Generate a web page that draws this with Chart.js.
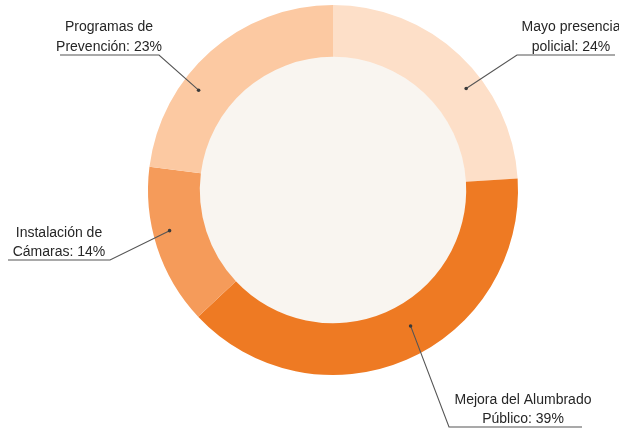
<!DOCTYPE html>
<html>
<head>
<meta charset="utf-8">
<script src="https://cdn.jsdelivr.net/npm/chart.js@4"></script>
<style>
    html, body { margin: 0; padding: 0; background: #ffffff; }
    #wrap { width: 619px; height: 430px; }
</style>
</head>
<body>
<div id="wrap"><canvas id="myChart" width="619" height="430"></canvas></div>
<script>
const categories = ["Mayo presencia policial", "Mejora del Alumbrado Público", "Instalación de Cámaras", "Programas de Prevención"];
const values = [24, 39, 14, 23];
const labelLines = [
    ["Mayo presencia", "policial: 24%"],
    ["Mejora del Alumbrado", "Público: 39%"],
    ["Instalación de", "Cámaras: 14%"],
    ["Programas de", "Prevención: 23%"]
];
const colors = ["#fddfc8", "#ee7a23", "#f59b5a", "#fcc9a2"];

// where each callout sits: dot fraction along slice / across ring, elbow point, underline end, text centre
const callouts = [
    { frac: 0.61, rad: 0.66, elbow: [517, 55], lineEnd: 615, textX: 571, textY: [27, 47] },
    { frac: 0.455, rad: 0.45, elbow: [449, 427], lineEnd: 582, textX: 523, textY: [400, 419] },
    { frac: 0.58, rad: 0.68, elbow: [110, 260], lineEnd: 8, textX: 59, textY: [233, 252] },
    { frac: 0.355, rad: 0.66, elbow: [159, 55], lineEnd: 60, textX: 109, textY: [27, 47] }
];

const calloutPlugin = {
    id: 'callouts',
    beforeDatasetsDraw(chart) {
        const arc = chart.getDatasetMeta(0).data[0];
        const ctx = chart.ctx;
        ctx.save();
        ctx.fillStyle = "#f9f5f0";
        ctx.beginPath();
        ctx.arc(arc.x, arc.y, arc.innerRadius + 0.5, 0, Math.PI * 2);
        ctx.fill();
        ctx.restore();
    },
    afterDatasetsDraw(chart) {
        const ctx = chart.ctx;
        const meta = chart.getDatasetMeta(0);
        ctx.save();
        meta.data.forEach((arc, i) => {
            const c = callouts[i];
            const a = arc.startAngle + (arc.endAngle - arc.startAngle) * c.frac;
            const r = arc.innerRadius + (arc.outerRadius - arc.innerRadius) * c.rad;
            const px = arc.x + Math.cos(a) * r;
            const py = arc.y + Math.sin(a) * r;

            ctx.strokeStyle = "#555555";
            ctx.lineWidth = 1.1;
            ctx.beginPath();
            ctx.moveTo(px, py);
            ctx.lineTo(c.elbow[0], c.elbow[1]);
            ctx.lineTo(c.lineEnd, c.elbow[1]);
            ctx.stroke();

            ctx.fillStyle = "#3a3a3a";
            ctx.beginPath();
            ctx.arc(px, py, 1.8, 0, Math.PI * 2);
            ctx.fill();

            ctx.fillStyle = "#262626";
            ctx.font = "14px 'Liberation Sans', Arial, sans-serif";
            ctx.textAlign = "center";
            ctx.textBaseline = "middle";
            labelLines[i].forEach((t, j) => ctx.fillText(t, c.textX, c.textY[j]));
        });
        ctx.restore();
    }
};

new Chart(document.getElementById('myChart'), {
    type: 'doughnut',
    data: {
        labels: categories,
        datasets: [{
            data: values,
            backgroundColor: colors,
            borderWidth: 0,
        }]
    },
    options: {
        responsive: false,
        animation: false,
        cutout: '72%',
        layout: {
            padding: { left: 140, right: 93, top: 5, bottom: 55 }
        },
        plugins: {
            legend: { display: false },
            tooltip: { enabled: false },
        },
    },
    plugins: [calloutPlugin]
});
</script>
</body>
</html>
